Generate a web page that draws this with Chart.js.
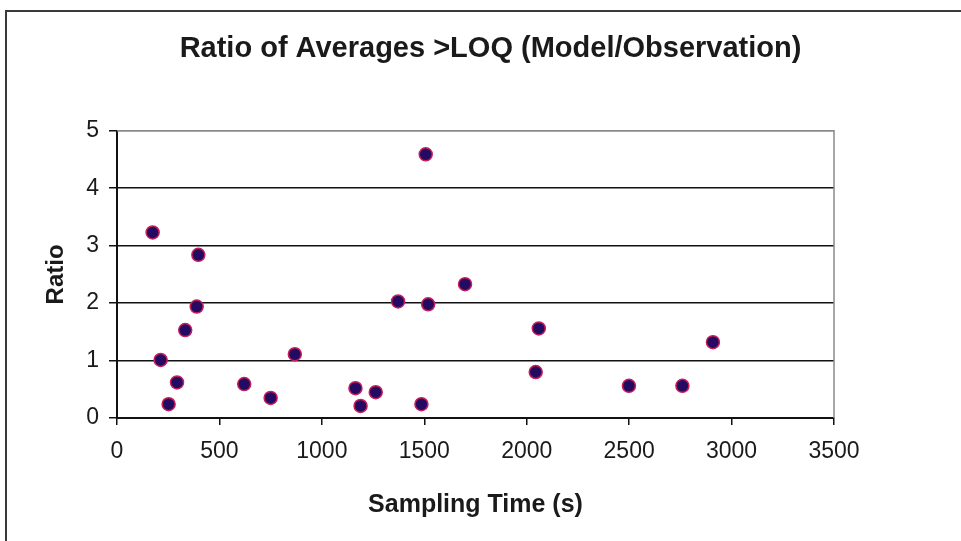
<!DOCTYPE html>
<html>
<head>
<meta charset="utf-8">
<script src="https://cdn.jsdelivr.net/npm/chart.js@4"></script>
<style>
  html, body { margin: 0; padding: 0; background: #fff; }
  #wrap { position: relative; width: 961px; height: 541px; overflow: hidden; }
  #frame { position: absolute; left: 5px; top: 10px; width: 1000px; height: 600px; border: 2px solid #3a3a3a; }
  #chart { position: absolute; left: 0; top: 0; }
</style>
</head>
<body>
<div id="wrap">
  <div id="frame"></div>
  <canvas id="chart" width="961" height="541"></canvas>
</div>
<script>
// sampling time (s) and model/observation ratio
const samplingTime = [174, 397, 389, 333, 213, 293, 252, 621, 750, 868, 1164, 1189, 1263, 1372, 1519, 1507, 1486, 1699, 2059, 2044, 2499, 2760, 2909];
const ratio        = [3.23, 2.84, 1.94, 1.53, 1.01, 0.62, 0.24, 0.59, 0.35, 1.11, 0.52, 0.21, 0.45, 2.03, 1.98, 4.59, 0.24, 2.33, 1.56, 0.80, 0.56, 0.56, 1.32];
const xTicks = [0, 500, 1000, 1500, 2000, 2500, 3000, 3500];
const yTicks = [0, 1, 2, 3, 4, 5];

const FONT = "'Liberation Sans', Arial, sans-serif";

// gray top/right edge of the plot area, like the Excel plot border
const plotFrame = {
  id: "plotFrame",
  beforeDatasetsDraw(chart) {
    const { ctx, chartArea: a } = chart;
    ctx.save();
    ctx.strokeStyle = "#8a8a8a"; ctx.lineWidth = 1.5;
    ctx.beginPath();
    ctx.moveTo(a.left, a.top); ctx.lineTo(a.right, a.top); ctx.lineTo(a.right, a.bottom);
    ctx.stroke();
    ctx.restore();
  }
};

const pts = samplingTime.map((x, i) => ({ x, y: ratio[i] }));

new Chart(document.getElementById("chart").getContext("2d"), {
  type: "scatter",
  data: { datasets: [{
    data: pts, pointRadius: 6.5, pointHoverRadius: 6.5,
    backgroundColor: "#250a62", borderColor: "#c81e5c", borderWidth: 1.5
  }]},
  options: {
    responsive: false, animation: false, devicePixelRatio: 1,
    layout: { padding: { left: 20, right: 0, top: 0, bottom: 0 } },
    plugins: {
      legend: { display: false }, tooltip: { enabled: false },
      title: {
        display: true, text: "Ratio of Averages >LOQ (Model/Observation)",
        color: "#1a1a1a", font: { family: FONT, size: 29, weight: "bold", lineHeight: 1.2 },
        padding: { top: 32, bottom: 64 }
      }
    },
    scales: {
      x: {
        type: "linear", min: 0, max: 3500,
        afterBuildTicks: (s) => { s.ticks = xTicks.map(v => ({ value: v })); },
        afterFit: (s) => { s.height = 123; },
        ticks: { color: "#1a1a1a", font: { family: FONT, size: 23 }, padding: 13, maxRotation: 0,
                 callback: (v) => String(v) },
        grid: { drawOnChartArea: false, drawTicks: true, tickLength: 7, tickColor: "#111", lineWidth: 1.5 },
        border: { color: "#111", width: 2 },
        title: { display: true, text: "Sampling Time (s)", color: "#1a1a1a",
                 font: { family: FONT, size: 25, weight: "bold", lineHeight: 1.2 }, padding: { top: 0, bottom: 21 } }
      },
      y: {
        min: 0, max: 5,
        afterBuildTicks: (s) => { s.ticks = yTicks.map(v => ({ value: v })); },
        afterFit: (s) => { s.width = 97; },
        ticks: { color: "#1a1a1a", font: { family: FONT, size: 23 }, padding: 10 },
        grid: {
          color: (c) => c.tick && c.tick.value === 5 ? "#8a8a8a" : "#111",
          lineWidth: 1.5, tickColor: "#111", tickLength: 8
        },
        border: { color: "#111", width: 2 },
        title: { display: true, text: "Ratio", color: "#1a1a1a",
                 font: { family: FONT, size: 24, weight: "bold", lineHeight: 1.2 }, padding: { top: 22, bottom: 0 } }
      },
      // empty right-hand axis: only reserves the blank strip right of the plot
      yRight: {
        position: "right", min: 0, max: 5,
        afterFit: (s) => { s.width = 127; },
        ticks: { display: false }, grid: { display: false }, border: { display: false }
      }
    }
  },
  plugins: [plotFrame]
});
</script>
</body>
</html>
